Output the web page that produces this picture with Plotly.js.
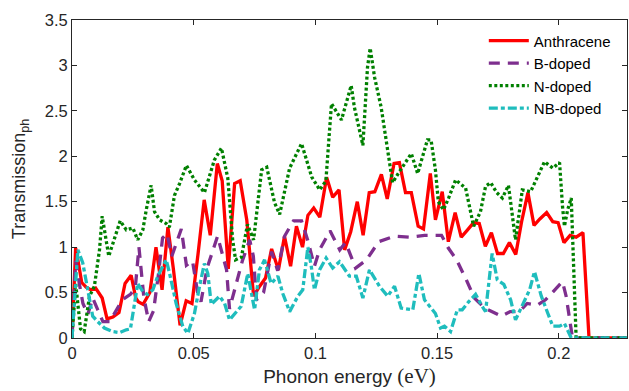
<!DOCTYPE html>
<html>
<head>
<meta charset="utf-8">
<script src="https://cdn.plot.ly/plotly-3.0.1.min.js"></script>
<style>html,body{margin:0;padding:0;background:#fff;}#chart{width:629px;height:391px;}</style>
</head>
<body>
<div id="chart"></div>
<script>
// ---- Data ----
const seriesNames = ['Anthracene', 'B-doped', 'N-doped', 'NB-doped'];

const energyAnth = [0,0.0015,0.0028,0.004,0.0058,0.0078,0.0097,0.011,0.0124,0.0144,0.0168,0.0193,0.0218,0.0243,0.0262,0.0272,0.0292,0.032,0.0345,0.037,0.0394,0.0416,0.0444,0.0469,0.0493,0.0518,0.0543,0.0568,0.0597,0.0617,0.0642,0.0668,0.0691,0.0718,0.0746,0.0771,0.0795,0.082,0.0848,0.0873,0.0898,0.0922,0.0947,0.0969,0.0993,0.1018,0.1046,0.1071,0.1097,0.112,0.1145,0.1172,0.1196,0.1221,0.1244,0.1271,0.1295,0.1323,0.1345,0.137,0.1394,0.1422,0.1444,0.1472,0.1493,0.1521,0.1546,0.1574,0.1599,0.1625,0.165,0.1673,0.1698,0.1723,0.1748,0.1772,0.1797,0.1823,0.1847,0.1873,0.1898,0.1922,0.195,0.1975,0.1997,0.2021,0.2046,0.2071,0.2099,0.2124,0.228];
const transAnth  = [0,0.99,0.8,0.61,0.56,0.53,0.55,0.5,0.44,0.21,0.23,0.28,0.6,0.69,0.44,0.4,0.37,0.5,1.0,0.53,1.22,0.77,0.14,0.41,0.38,0.93,1.52,1.13,1.92,1.73,0.76,1.7,1.73,1.3,0.46,0.57,0.66,0.98,0.75,1.12,0.79,1.23,1.0,1.35,1.43,1.33,1.77,1.55,1.63,0.97,1.17,1.5,1.13,1.6,1.61,1.8,1.53,1.92,1.93,1.6,1.6,1.23,1.2,1.81,1.3,1.61,1.06,1.38,1.11,1.19,1.27,1.26,1.01,1.16,0.93,0.93,1.05,0.92,1.28,1.6,1.24,1.31,1.38,1.28,1.27,1.05,1.13,1.11,1.16,0,0];

const energyB = [0,0.0015,0.003,0.0045,0.0065,0.0085,0.0106,0.0127,0.0155,0.018,0.0207,0.024,0.026,0.0275,0.0295,0.0315,0.0335,0.0355,0.0372,0.039,0.041,0.0449,0.046,0.047,0.0495,0.0516,0.053,0.0555,0.0598,0.0615,0.0635,0.0647,0.0676,0.07,0.073,0.0745,0.0758,0.0787,0.082,0.0845,0.0873,0.091,0.0943,0.0968,0.0996,0.1017,0.106,0.11,0.1124,0.1165,0.121,0.126,0.1325,0.1387,0.1448,0.1518,0.1546,0.158,0.162,0.1653,0.1695,0.1764,0.18,0.1838,0.187,0.191,0.1945,0.2015,0.203,0.2044,0.2056,0.228];
const transB  = [0,0.85,0.6,0.38,0.26,0.44,0.31,0.18,0.18,0.3,0.42,0.48,0.55,1.0,0.45,0.18,0.3,0.7,1.1,1.15,0.9,1.2,1.0,0.8,0.85,0.5,0.4,0.77,1.12,0.96,0.75,0.32,0.6,0.85,1.08,0.9,0.42,0.5,0.95,0.74,1.12,1.29,1.29,1.08,0.79,0.97,1.18,0.97,1.05,0.77,0.86,1.06,1.12,1.11,1.13,1.13,0.99,0.86,0.64,0.44,0.33,0.24,0.29,0.29,0.38,0.36,0.42,0.62,0.46,0.2,0,0];

const energyN = [0,0.0015,0.0035,0.005,0.0072,0.0092,0.0113,0.0124,0.014,0.0151,0.0168,0.0198,0.0223,0.025,0.027,0.0291,0.0305,0.0325,0.0339,0.036,0.0387,0.04,0.0421,0.0442,0.047,0.0503,0.0544,0.0585,0.0614,0.064,0.066,0.0672,0.0696,0.0721,0.0746,0.0779,0.08,0.0832,0.0853,0.0894,0.0943,0.0985,0.1018,0.1043,0.1066,0.1107,0.1147,0.116,0.1195,0.1214,0.1225,0.1243,0.127,0.1296,0.1317,0.134,0.1394,0.142,0.146,0.1475,0.1493,0.1505,0.1526,0.1547,0.1576,0.1617,0.165,0.1678,0.1699,0.172,0.1745,0.1768,0.1793,0.1822,0.185,0.1884,0.1941,0.1975,0.2003,0.2015,0.2023,0.2036,0.2051,0.2057,0.2071,0.228];
const transN  = [0,0.6,0.1,0.07,0.46,0.57,0.97,1.34,1.08,0.9,1.04,1.29,1.19,1.21,1.08,1.19,1.41,1.68,1.39,1.3,1.26,1.22,1.57,1.7,1.9,1.74,1.6,1.96,2.09,1.76,1.08,0.86,0.89,1.25,1.08,1.85,1.88,1.49,1.36,1.87,2.14,1.77,1.63,1.73,2.58,2.4,2.78,2.54,2.12,2.98,3.19,2.87,2.54,2.07,1.71,1.81,2.03,1.81,2.18,2.18,1.85,1.5,1.41,1.54,1.74,1.65,1.23,1.39,1.67,1.71,1.6,1.54,1.68,1.08,1.63,1.61,1.94,1.87,1.93,1.45,1.23,1.41,1.54,1.08,0,0];

const energyNB = [0,0.0024,0.0044,0.0065,0.0085,0.0106,0.0133,0.0168,0.0195,0.0223,0.024,0.0257,0.027,0.0291,0.031,0.0332,0.0352,0.0387,0.04,0.0428,0.0455,0.0476,0.0503,0.0524,0.0544,0.0558,0.0572,0.0606,0.0627,0.0647,0.0695,0.0722,0.075,0.077,0.0791,0.0818,0.0846,0.0866,0.0894,0.0928,0.0948,0.0969,0.0983,0.0996,0.1017,0.1044,0.1071,0.1099,0.114,0.1168,0.1195,0.1222,0.1263,0.1297,0.1325,0.1352,0.14,0.1425,0.1448,0.1493,0.1514,0.153,0.1555,0.1583,0.1603,0.163,0.1658,0.1685,0.1699,0.1726,0.1747,0.1774,0.1802,0.1822,0.185,0.188,0.19,0.1928,0.1955,0.1975,0.2003,0.2023,0.2051,0.228];
const transNB  = [0,0.97,0.83,0.53,0.24,0.18,0.11,0.07,0.06,0.09,0.1,0.38,0.6,0.51,0.48,0.53,0.68,0.86,0.72,0.38,0.13,0.05,0.27,0.57,0.82,0.71,0.37,0.46,0.38,0.2,0.35,0.71,0.31,0.75,0.86,0.6,0.68,0.49,0.29,0.46,0.53,1.0,0.79,0.53,0.75,0.88,0.77,0.84,0.68,0.68,0.44,0.75,0.57,0.46,0.57,0.33,0.31,0.71,0.42,0.27,0.11,0.13,0.07,0.31,0.31,0.4,0.48,0.35,0.29,0.93,0.64,0.59,0.42,0.2,0.35,0.53,0.73,0.46,0.27,0.13,0.13,0.16,0,0];

const xTickVals = [0, 0.05, 0.1, 0.15, 0.2];
const xTickText = ['0', '0.05', '0.1', '0.15', '0.2'];
const yTickVals = [0, 0.5, 1, 1.5, 2, 2.5, 3, 3.5];
const yTickText = ['0', '0.5', '1', '1.5', '2', '2.5', '3', '3.5'];

// ---- Plot ----
const traces = [
  {x: energyAnth, y: transAnth, name: seriesNames[0], type: 'scatter', mode: 'lines',
   line: {color: '#ff0000', width: 3.3}},
  {x: energyB, y: transB, name: seriesNames[1], type: 'scatter', mode: 'lines',
   line: {color: '#7e2f8e', width: 3.3, dash: '11px,8px'}},
  {x: energyN, y: transN, name: seriesNames[2], type: 'scatter', mode: 'lines',
   line: {color: '#008000', width: 3.3, dash: '3px,2.5px'}},
  {x: energyNB, y: transNB, name: seriesNames[3], type: 'scatter', mode: 'lines',
   line: {color: '#1fbdbd', width: 3.3, dash: '9px,3px,4px,3px'}}
];

const FONT = 'Liberation Sans, Arial, Helvetica, sans-serif';
const axisCommon = {
  ticks: 'inside', ticklen: 5, tickwidth: 1, tickcolor: '#262626',
  showline: true, linecolor: '#262626', linewidth: 1, mirror: 'ticks',
  showgrid: false, zeroline: false,
  tickfont: {family: FONT, size: 16.5, color: '#262626'}
};

const layout = {
  width: 629, height: 391,
  margin: {l: 72, r: 2, t: 20, b: 53},
  paper_bgcolor: '#ffffff', plot_bgcolor: '#ffffff',
  font: {family: FONT, size: 16, color: '#262626'},
  xaxis: Object.assign({}, axisCommon, {
    range: [0, 0.228], tickmode: 'array', tickvals: xTickVals, ticktext: xTickText,
    automargin: false,
    title: {text: 'Phonon energy <span style="font-family:\'Liberation Serif\',\'DejaVu Serif\',serif;font-size:21px">(eV)</span>',
            font: {family: FONT, size: 19, color: '#262626'}, standoff: 8}
  }),
  yaxis: Object.assign({}, axisCommon, {
    range: [0, 3.5], tickmode: 'array', tickvals: yTickVals, ticktext: yTickText,
    automargin: false,
    title: {text: 'Transmission<sub>ph</sub>', font: {family: FONT, size: 18, color: '#262626'}, standoff: 14}
  }),
  showlegend: true,
  legend: {x: 0.742, y: 0.986, xanchor: 'left', yanchor: 'top',
           bgcolor: 'rgba(255,255,255,0)', borderwidth: 0,
           font: {family: FONT, size: 15, color: '#000000'},
           tracegroupgap: 0, itemwidth: 40}
};

Plotly.newPlot('chart', traces, layout, {staticPlot: true, displayModeBar: false});
</script>
</body>
</html>
